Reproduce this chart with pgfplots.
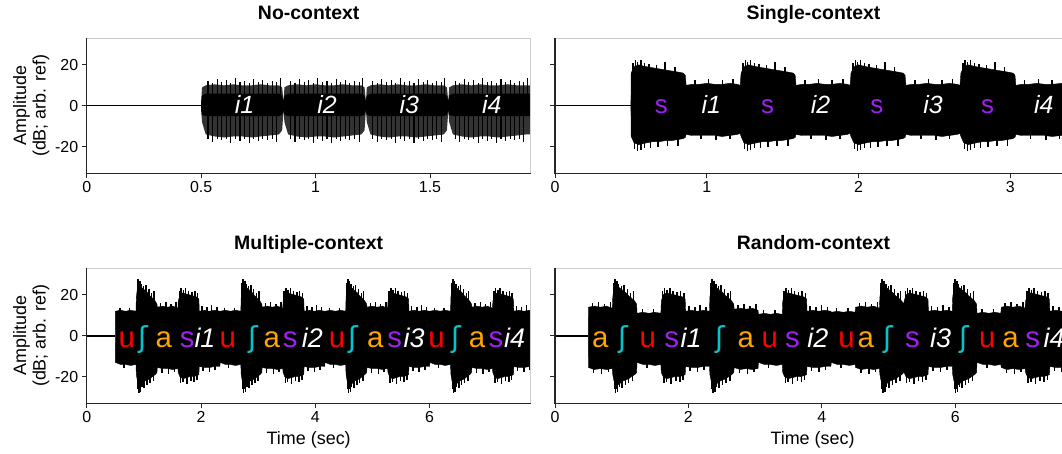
\documentclass[border=0pt]{standalone}
\usepackage{fontspec}
\setmainfont{Liberation Sans}
\newfontfamily\ipafont{DejaVu Sans}
\usepackage{pgfplots}
\usepackage{pgfplotstable}
\pgfplotsset{compat=1.18}
\usepgfplotslibrary{fillbetween}

\definecolor{cu}{HTML}{FF0000}
\definecolor{csh}{HTML}{00C5CD}
\definecolor{ca}{HTML}{FFA500}
\definecolor{cs}{HTML}{A020F0}
\definecolor{framegray}{HTML}{CCCCCC}

% envelopes (dB)
\pgfplotstableread{
t u l cu cl
0.500 2 -2 2 -2
0.504 9 -8 5 -4.5
0.520 10 -14 6 -5
0.560 10.5 -15 6 -5
0.600 10 -15.5 6 -5
0.640 10.5 -15 6 -5
0.680 10 -15 6 -5
0.720 10 -15.5 6 -5
0.760 10.5 -15 6 -5
0.800 10 -14.5 6 -5
0.840 10 -14 6 -5
0.854 9 -12 5 -4.5
0.860 2 -2 2 -2
0.864 9 -8 5 -4.5
0.880 10 -14 6 -5
0.920 10.5 -15 6 -5
0.960 10 -15.5 6 -5
1.000 10.5 -15 6 -5
1.040 10 -15 6 -5
1.080 10 -15.5 6 -5
1.120 10.5 -15 6 -5
1.160 10 -14.5 6 -5
1.200 10 -14 6 -5
1.214 9 -12 5 -4.5
1.220 2 -2 2 -2
1.224 9 -8 5 -4.5
1.240 10 -14 6 -5
1.280 10.5 -15 6 -5
1.320 10 -15.5 6 -5
1.360 10.5 -15 6 -5
1.400 10 -15 6 -5
1.440 10 -15.5 6 -5
1.480 10.5 -15 6 -5
1.520 10 -14.5 6 -5
1.560 10 -14 6 -5
1.574 9 -12 5 -4.5
1.580 2 -2 2 -2
1.584 9 -8 5 -4.5
1.600 10 -14 6 -5
1.640 10.5 -15 6 -5
1.680 10 -15.5 6 -5
1.720 10.5 -15 6 -5
1.760 10 -15 6 -5
1.800 10 -15.5 6 -5
1.840 10.5 -15 6 -5
1.880 10 -14.5 6 -5
1.920 10 -14 6 -5
1.940 10 -14 6 -5
}\envNo

\pgfplotstableread{
t u l
0.500 0.3 -0.3
0.502 16 -15
0.520 19 -18
0.550 20 -19
0.580 19.5 -18.5
0.610 19 -18
0.650 18.5 -17.5
0.690 18 -17.5
0.730 17.5 -17
0.770 17 -17
0.810 16.5 -16.5
0.845 16 -16
0.858 15 -15.5
0.864 10 -14
0.902 10.5 -14.5
0.952 10.5 -14.5
1.002 11 -14.5
1.052 10.5 -14.5
1.102 10.5 -15
1.152 11 -14.5
1.202 10.5 -14
1.220 10 -13.5
1.226 16 -15
1.244 19 -18
1.274 20 -19
1.304 19.5 -18.5
1.334 19 -18
1.374 18.5 -17.5
1.414 18 -17.5
1.454 17.5 -17
1.494 17 -17
1.534 16.5 -16.5
1.569 16 -16
1.582 15 -15.5
1.588 10 -14
1.626 10.5 -14.5
1.676 10.5 -14.5
1.726 11 -14.5
1.776 10.5 -14.5
1.826 10.5 -15
1.876 11 -14.5
1.926 10.5 -14
1.944 10 -13.5
1.950 16 -15
1.968 19 -18
1.998 20 -19
2.028 19.5 -18.5
2.058 19 -18
2.098 18.5 -17.5
2.138 18 -17.5
2.178 17.5 -17
2.218 17 -17
2.258 16.5 -16.5
2.293 16 -16
2.306 15 -15.5
2.312 10 -14
2.350 10.5 -14.5
2.400 10.5 -14.5
2.450 11 -14.5
2.500 10.5 -14.5
2.550 10.5 -15
2.600 11 -14.5
2.650 10.5 -14
2.668 10 -13.5
2.674 16 -15
2.692 19 -18
2.722 20 -19
2.752 19.5 -18.5
2.782 19 -18
2.822 18.5 -17.5
2.862 18 -17.5
2.902 17.5 -17
2.942 17 -17
2.982 16.5 -16.5
3.017 16 -16
3.030 15 -15.5
3.036 10 -14
3.074 10.5 -14.5
3.124 10.5 -14.5
3.174 11 -14.5
3.224 10.5 -14.5
3.274 10.5 -15
3.340 11 -14.5
}\envSingle

\pgfplotstableread{
t u l
0.500 0.3 -0.3
0.502 12 -13
0.590 12.5 -14
0.680 12 -14
0.770 12.5 -14.5
0.862 12 -14
0.869 19 -19
0.887 23 -22
0.917 25 -24
0.947 24 -24
0.987 23 -23
1.027 22 -22
1.067 21 -21.5
1.107 19.5 -21
1.147 18.5 -20
1.197 17 -19
1.229 15.5 -18
1.236 14 -15.5
1.324 14.5 -16
1.414 14 -16
1.504 14.5 -16.5
1.596 13.5 -16
1.603 17 -18
1.631 20 -20
1.681 21 -21
1.741 20.5 -20.5
1.801 20 -20
1.861 19.5 -20
1.921 19 -19.5
1.963 18 -19
1.970 12 -15
2.058 12.5 -15.5
2.148 12 -15.5
2.238 12.5 -15
2.330 12 -15
2.337 12 -13
2.425 12.5 -14
2.515 12 -14
2.605 12.5 -14.5
2.697 12 -14
2.704 19 -19
2.722 23 -22
2.752 25 -24
2.782 24 -24
2.822 23 -23
2.862 22 -22
2.902 21 -21.5
2.942 19.5 -21
2.982 18.5 -20
3.032 17 -19
3.064 15.5 -18
3.071 14 -15.5
3.159 14.5 -16
3.249 14 -16
3.339 14.5 -16.5
3.431 13.5 -16
3.438 17 -18
3.466 20 -20
3.516 21 -21
3.576 20.5 -20.5
3.636 20 -20
3.696 19.5 -20
3.756 19 -19.5
3.798 18 -19
3.805 12 -15
3.893 12.5 -15.5
3.983 12 -15.5
4.073 12.5 -15
4.165 12 -15
4.172 12 -13
4.260 12.5 -14
4.350 12 -14
4.440 12.5 -14.5
4.532 12 -14
4.539 19 -19
4.557 23 -22
4.587 25 -24
4.617 24 -24
4.657 23 -23
4.697 22 -22
4.737 21 -21.5
4.777 19.5 -21
4.817 18.5 -20
4.867 17 -19
4.899 15.5 -18
4.906 14 -15.5
4.994 14.5 -16
5.084 14 -16
5.174 14.5 -16.5
5.266 13.5 -16
5.273 17 -18
5.301 20 -20
5.351 21 -21
5.411 20.5 -20.5
5.471 20 -20
5.531 19.5 -20
5.591 19 -19.5
5.633 18 -19
5.640 12 -15
5.728 12.5 -15.5
5.818 12 -15.5
5.908 12.5 -15
6.000 12 -15
6.007 12 -13
6.095 12.5 -14
6.185 12 -14
6.275 12.5 -14.5
6.367 12 -14
6.374 19 -19
6.392 23 -22
6.422 25 -24
6.452 24 -24
6.492 23 -23
6.532 22 -22
6.572 21 -21.5
6.612 19.5 -21
6.652 18.5 -20
6.702 17 -19
6.734 15.5 -18
6.741 14 -15.5
6.829 14.5 -16
6.919 14 -16
7.009 14.5 -16.5
7.101 13.5 -16
7.108 17 -18
7.136 20 -20
7.186 21 -21
7.246 20.5 -20.5
7.306 20 -20
7.366 19.5 -20
7.426 19 -19.5
7.468 18 -19
7.475 12 -15
7.563 12.5 -15.5
7.653 12 -15.5
7.743 12.5 -15
7.770 12 -15
}\envMultiple

\pgfplotstableread{
t u l
0.500 0.3 -0.3
0.502 14 -15.5
0.590 14.5 -16.5
0.680 14 -16
0.770 14.5 -16.5
0.859 13.5 -16
0.866 19 -19
0.884 23 -22
0.914 25 -24
0.944 24 -24
0.984 23 -23
1.024 22 -22
1.064 21 -21.5
1.104 19.5 -21
1.144 18.5 -20
1.194 17 -19
1.223 15.5 -18
1.230 11 -13
1.318 11.5 -14
1.408 11 -14
1.498 11.5 -14.5
1.587 11 -14
1.594 17 -18
1.622 20 -20
1.672 21 -21
1.732 20.5 -20.5
1.792 20 -20
1.852 19.5 -20
1.912 19 -19.5
1.951 18 -19
1.958 12 -15
2.046 12.5 -15.5
2.136 12 -15.5
2.226 12.5 -15
2.315 12 -15
2.322 19 -19
2.340 23 -22
2.370 25 -24
2.400 24 -24
2.440 23 -23
2.480 22 -22
2.520 21 -21.5
2.560 19.5 -21
2.600 18.5 -20
2.650 17 -19
2.679 15.5 -18
2.686 13 -15.5
2.774 13.5 -16.5
2.864 13 -16
2.954 13.5 -16.5
3.043 12.5 -16
3.050 10.5 -13
3.138 11 -14
3.228 10.5 -14
3.318 11 -14.5
3.407 10.5 -14
3.414 17 -18
3.442 20 -20
3.492 21 -21
3.552 20.5 -20.5
3.612 20 -20
3.672 19.5 -20
3.732 19 -19.5
3.771 18 -19
3.778 12 -15
3.866 12.5 -15.5
3.956 12 -15.5
4.046 12.5 -15
4.135 12 -15
4.142 11.5 -13
4.230 12 -14
4.320 11.5 -14
4.410 12 -14.5
4.499 11.5 -14
4.506 14 -15.5
4.594 14.5 -16.5
4.684 14 -16
4.774 14.5 -16.5
4.863 13.5 -16
4.870 19 -19
4.888 23 -22
4.918 25 -24
4.948 24 -24
4.988 23 -23
5.028 22 -22
5.068 21 -21.5
5.108 19.5 -21
5.148 18.5 -20
5.198 17 -19
5.227 15.5 -18
5.234 17 -18
5.262 20 -20
5.312 21 -21
5.372 20.5 -20.5
5.432 20 -20
5.492 19.5 -20
5.552 19 -19.5
5.591 18 -19
5.598 12 -15
5.686 12.5 -15.5
5.776 12 -15.5
5.866 12.5 -15
5.955 12 -15
5.962 19 -19
5.980 23 -22
6.010 25 -24
6.040 24 -24
6.080 23 -23
6.120 22 -22
6.160 21 -21.5
6.200 19.5 -21
6.240 18.5 -20
6.290 17 -19
6.319 15.5 -18
6.326 11 -13
6.414 11.5 -14
6.504 11 -14
6.594 11.5 -14.5
6.683 11 -14
6.690 14 -15.5
6.778 14.5 -16.5
6.868 14 -16
6.958 14.5 -16.5
7.047 13.5 -16
7.054 17 -18
7.082 20 -20
7.132 21 -21
7.192 20.5 -20.5
7.252 20 -20
7.312 19.5 -20
7.372 19 -19.5
7.411 18 -19
7.418 12 -15
7.506 12.5 -15.5
7.600 12 -15.5
}\envRandom

\pgfplotsset{
  wave/.style={
    scale only axis, clip=false, height=135bp,
    ymin=-33, ymax=33, ytick={-20,0,20},
    axis line style={draw=none},
    tick align=outside, tick pos=left,
    major tick length=5bp,
    tick style={black!85, line width=0.9bp},
    tick label style={font=\fontsize{16}{16}\selectfont},
    /pgf/number format/assume math mode=true,
    title style={font=\bfseries\fontsize{19.5}{21}\selectfont,
      at={(axis description cs:0.5,1)}, anchor=base, yshift=12.5bp},
    ylabel style={align=center, font=\fontsize{18}{19.5}\selectfont,
      at={(axis description cs:-0.125,0.5)}, anchor=center},
    xlabel style={font=\fontsize{18}{18}\selectfont,
      at={(axis description cs:0.5,0)}, anchor=base, yshift=-41.5bp},
  },
  spike/.style={ycomb, black, line width=1.5bp, mark=none},
  silence/.style={black, line width=1.4bp, mark=none},
}
\tikzset{
  ph/.style={anchor=base, font=\fontsize{29.5}{29.5}\selectfont},
  phs/.style={anchor=base, font=\fontsize{26}{26}\selectfont},
  sh/.style={anchor=base, text=csh, font=\ipafont\fontsize{29}{29}\selectfont},
  it/.style={anchor=base, text=white, font=\itshape\fontsize{27}{27}\selectfont},
  its/.style={anchor=base, text=white, font=\itshape\fontsize{25}{25}\selectfont},
}
\newcommand\frameleft{%
  \draw[framegray, line width=1bp] (rel axis cs:0,1) -- (rel axis cs:1,1) -- (rel axis cs:1,0);
  \draw[black!85, line width=1.2bp] (rel axis cs:0,1) -- (rel axis cs:0,0) -- (rel axis cs:1,0);}
\newcommand\frameright{%
  \draw[framegray, line width=1bp] (rel axis cs:0,1) -- (rel axis cs:1,1);
  \draw[black!85, line width=1.2bp] (rel axis cs:0,1) -- (rel axis cs:0,0) -- (rel axis cs:1,0);}

\begin{document}
\begin{tikzpicture}

% ---------------- No-context ----------------
\begin{axis}[wave, at={(86.7bp,280.7bp)}, anchor=south west, width=444bp,
  xmin=0, xmax=1.94, xtick={0,0.5,1,1.5},
  title={No-context}, ylabel={Amplitude\\(dB; arb. ref)}]
\addplot[silence] coordinates {(0,0) (0.5,0)};
\addplot[draw=none, name path=nu] table[x=t,y=u] {\envNo};
\addplot[draw=none, name path=nl] table[x=t,y=l] {\envNo};
\addplot[fill=black!80, draw=none] fill between[of=nu and nl];
\addplot[spike, line width=1.1bp] coordinates {
(0.530,12) (0.550,11) (0.570,13) (0.590,11.5) (0.610,12.5) (0.630,11) (0.650,13.5) (0.670,11.5) (0.690,12) (0.710,11) (0.730,13) (0.750,11.5) (0.770,12.5) (0.790,11) (0.810,12) (0.830,11.5) (0.845,13.5)
(0.890,12) (0.910,11) (0.930,13) (0.950,11.5) (0.970,12.5) (0.990,11) (1.010,13.5) (1.030,11.5) (1.050,12) (1.070,11) (1.090,13) (1.110,11.5) (1.130,12.5) (1.150,11) (1.170,12) (1.190,11.5) (1.205,13.5)
(1.250,12) (1.270,11) (1.290,13) (1.310,11.5) (1.330,12.5) (1.350,11) (1.370,13.5) (1.390,11.5) (1.410,12) (1.430,11) (1.450,13) (1.470,11.5) (1.490,12.5) (1.510,11) (1.530,12) (1.550,11.5) (1.565,13.5)
(1.610,12) (1.630,11) (1.650,13) (1.670,11.5) (1.690,12.5) (1.710,11) (1.730,13.5) (1.750,11.5) (1.770,12) (1.790,11) (1.810,13) (1.830,11.5) (1.850,12.5) (1.870,11) (1.890,12) (1.910,11.5) (1.925,13.5)};
\addplot[spike, line width=1.1bp] coordinates {
(0.530,-16) (0.550,-17.5) (0.570,-16) (0.590,-16.5) (0.610,-16) (0.630,-18) (0.650,-16) (0.670,-17) (0.690,-16) (0.710,-18) (0.730,-16) (0.750,-17) (0.770,-16) (0.790,-16.5) (0.810,-16) (0.830,-17.5)
(0.890,-16) (0.910,-17.5) (0.930,-16) (0.950,-16.5) (0.970,-16) (0.990,-18) (1.010,-16) (1.030,-17) (1.050,-16) (1.070,-18) (1.090,-16) (1.110,-17) (1.130,-16) (1.150,-16.5) (1.170,-16) (1.190,-17.5)
(1.250,-16) (1.270,-17.5) (1.290,-16) (1.310,-16.5) (1.330,-16) (1.350,-18) (1.370,-16) (1.390,-17) (1.410,-16) (1.430,-18) (1.450,-16) (1.470,-17) (1.490,-16) (1.510,-16.5) (1.530,-16) (1.550,-17.5)
(1.610,-16) (1.630,-17.5) (1.650,-16) (1.670,-16.5) (1.690,-16) (1.710,-18) (1.730,-16) (1.750,-17) (1.770,-16) (1.790,-18) (1.810,-16) (1.830,-17) (1.850,-16) (1.870,-16.5) (1.890,-16) (1.910,-17.5)};
\addplot[draw=none, name path=ncu] table[x=t,y=cu] {\envNo};
\addplot[draw=none, name path=ncl] table[x=t,y=cl] {\envNo};
\addplot[fill=black, draw=none] fill between[of=ncu and ncl];
\node[its] at (axis cs:0.69,-4) {i1};
\node[its] at (axis cs:1.05,-4) {i2};
\node[its] at (axis cs:1.41,-4) {i3};
\node[its] at (axis cs:1.77,-4) {i4};
\frameleft
\end{axis}

% ---------------- Single-context ----------------
\begin{axis}[wave, at={(555bp,280.7bp)}, anchor=south west, width=507bp,
  xmin=0, xmax=3.34, xtick={0,1,2,3}, yticklabels={},
  title={Single-context}, title style={xshift=5bp}]
\addplot[silence] coordinates {(0,0) (0.5,0)};
\addplot[draw=none, name path=su] table[x=t,y=u] {\envSingle};
\addplot[draw=none, name path=sl] table[x=t,y=l] {\envSingle};
\addplot[fill=black, draw=black, line width=0.4bp] fill between[of=su and sl];
\addplot[spike] coordinates {
(0.515,21) (0.530,22.5) (0.545,21.5) (0.565,22.5) (0.590,21) (0.620,20.5) (0.670,20) (0.725,21.5) (0.790,19)
(0.922,12.5) (1.012,13) (1.102,12.5) (1.172,13)
(1.239,21) (1.254,22.5) (1.269,21.5) (1.289,22.5) (1.314,21) (1.344,20.5) (1.394,20) (1.449,21.5) (1.514,19)
(1.646,12.5) (1.736,13) (1.826,12.5) (1.896,13)
(1.963,21) (1.978,22.5) (1.993,21.5) (2.013,22.5) (2.038,21) (2.068,20.5) (2.118,20) (2.173,21.5) (2.238,19)
(2.370,12.5) (2.460,13) (2.550,12.5) (2.620,13)
(2.687,21) (2.702,22.5) (2.717,21.5) (2.737,22.5) (2.762,21) (2.792,20.5) (2.842,20) (2.897,21.5) (2.962,19)
(3.094,12.5) (3.184,13) (3.274,12.5)};
\addplot[spike] coordinates {
(0.525,-21) (0.545,-22) (0.565,-21.5) (0.590,-20.5) (0.630,-20.5) (0.680,-20) (0.740,-19.5) (0.810,-19.5)
(0.962,-16) (1.062,-16.5) (1.152,-16)
(1.249,-21) (1.269,-22) (1.289,-21.5) (1.314,-20.5) (1.354,-20.5) (1.404,-20) (1.464,-19.5) (1.534,-19.5)
(1.686,-16) (1.786,-16.5) (1.876,-16)
(1.973,-21) (1.993,-22) (2.013,-21.5) (2.038,-20.5) (2.078,-20.5) (2.128,-20) (2.188,-19.5) (2.258,-19.5)
(2.410,-16) (2.510,-16.5) (2.600,-16)
(2.697,-21) (2.717,-22) (2.737,-21.5) (2.762,-20.5) (2.802,-20.5) (2.852,-20) (2.912,-19.5) (2.982,-19.5)
(3.134,-16) (3.234,-16.5) (3.324,-16)};
\node[phs, text=cs] at (axis cs:0.70,-4) {s};
\node[its] at (axis cs:1.03,-4) {i1};
\node[phs, text=cs] at (axis cs:1.40,-4) {s};
\node[its] at (axis cs:1.75,-4) {i2};
\node[phs, text=cs] at (axis cs:2.12,-4) {s};
\node[its] at (axis cs:2.49,-4) {i3};
\node[phs, text=cs] at (axis cs:2.85,-4) {s};
\node[its] at (axis cs:3.22,-4) {i4};
\frameright
\end{axis}

% ---------------- Multiple-context ----------------
\begin{axis}[wave, at={(86.7bp,50.7bp)}, anchor=south west, width=444bp,
  xmin=0, xmax=7.77, xtick={0,2,4,6},
  title={Multiple-context}, ylabel={Amplitude\\(dB; arb. ref)}, xlabel={Time (sec)}]
\addplot[silence] coordinates {(0,0) (0.5,0)};
\addplot[draw=none, name path=mu] table[x=t,y=u] {\envMultiple};
\addplot[draw=none, name path=ml] table[x=t,y=l] {\envMultiple};
\addplot[fill=black, draw=black, line width=0.4bp] fill between[of=mu and ml];
\addplot[spike] coordinates {
(0.580,13.5) (0.750,13.5)
(0.887,26) (0.902,28) (0.917,26.5) (0.932,27) (0.957,25.5) (0.997,24.5) (1.037,25) (1.087,23) (1.137,21) (1.177,22)
(1.294,16) (1.384,16.5) (1.474,15.5) (1.564,16.5)
(1.621,22) (1.651,23.5) (1.691,22.5) (1.731,23.5) (1.781,22) (1.841,21.5) (1.891,22) (1.941,21)
(2.018,14.5) (2.108,14) (2.188,15) (2.278,14)
(2.415,13.5) (2.585,13.5)
(2.722,26) (2.737,28) (2.752,26.5) (2.767,27) (2.792,25.5) (2.832,24.5) (2.872,25) (2.922,23) (2.972,21) (3.012,22)
(3.129,16) (3.219,16.5) (3.309,15.5) (3.399,16.5)
(3.456,22) (3.486,23.5) (3.526,22.5) (3.566,23.5) (3.616,22) (3.676,21.5) (3.726,22) (3.776,21)
(3.853,14.5) (3.943,14) (4.023,15) (4.113,14)
(4.250,13.5) (4.420,13.5)
(4.557,26) (4.572,28) (4.587,26.5) (4.602,27) (4.627,25.5) (4.667,24.5) (4.707,25) (4.757,23) (4.807,21) (4.847,22)
(4.964,16) (5.054,16.5) (5.144,15.5) (5.234,16.5)
(5.291,22) (5.321,23.5) (5.361,22.5) (5.401,23.5) (5.451,22) (5.511,21.5) (5.561,22) (5.611,21)
(5.688,14.5) (5.778,14) (5.858,15) (5.948,14)
(6.085,13.5) (6.255,13.5)
(6.392,26) (6.407,28) (6.422,26.5) (6.437,27) (6.462,25.5) (6.502,24.5) (6.542,25) (6.592,23) (6.642,21) (6.682,22)
(6.799,16) (6.889,16.5) (6.979,15.5) (7.069,16.5)
(7.126,22) (7.156,23.5) (7.196,22.5) (7.236,23.5) (7.286,22) (7.346,21.5) (7.396,22) (7.446,21)
(7.523,14.5) (7.613,14) (7.693,15)};
\addplot[spike] coordinates {
(0.650,-15.5)
(0.897,-26) (0.912,-28) (0.927,-26) (0.942,-27.5) (0.967,-25) (1.007,-25.5) (1.057,-24) (1.107,-23) (1.167,-22)
(1.314,-18) (1.434,-18.5) (1.534,-17.5)
(1.641,-23) (1.681,-22.5) (1.751,-23.5) (1.821,-22) (1.881,-22.5) (1.931,-21.5)
(2.038,-17) (2.148,-17.5) (2.248,-16.5)
(2.485,-15.5)
(2.732,-26) (2.747,-28) (2.762,-26) (2.777,-27.5) (2.802,-25) (2.842,-25.5) (2.892,-24) (2.942,-23) (3.002,-22)
(3.149,-18) (3.269,-18.5) (3.369,-17.5)
(3.476,-23) (3.516,-22.5) (3.586,-23.5) (3.656,-22) (3.716,-22.5) (3.766,-21.5)
(3.873,-17) (3.983,-17.5) (4.083,-16.5)
(4.320,-15.5)
(4.567,-26) (4.582,-28) (4.597,-26) (4.612,-27.5) (4.637,-25) (4.677,-25.5) (4.727,-24) (4.777,-23) (4.837,-22)
(4.984,-18) (5.104,-18.5) (5.204,-17.5)
(5.311,-23) (5.351,-22.5) (5.421,-23.5) (5.491,-22) (5.551,-22.5) (5.601,-21.5)
(5.708,-17) (5.818,-17.5) (5.918,-16.5)
(6.155,-15.5)
(6.402,-26) (6.417,-28) (6.432,-26) (6.447,-27.5) (6.472,-25) (6.512,-25.5) (6.562,-24) (6.612,-23) (6.672,-22)
(6.819,-18) (6.939,-18.5) (7.039,-17.5)
(7.146,-23) (7.186,-22.5) (7.256,-23.5) (7.326,-22) (7.386,-22.5) (7.436,-21.5)
(7.543,-17) (7.653,-17.5) (7.753,-16.5)};
\node[ph, text=cu] at (axis cs:0.70,-5.5) {u};
\node[sh] at (axis cs:1.00,-5.5) {ʃ};
\node[ph, text=ca] at (axis cs:1.35,-5.5) {a};
\node[ph, text=cs] at (axis cs:1.76,-5.5) {s};
\node[it] at (axis cs:2.07,-5.5) {i1};
\node[ph, text=cu] at (axis cs:2.47,-5.5) {u};
\node[sh] at (axis cs:2.91,-5.5) {ʃ};
\node[ph, text=ca] at (axis cs:3.24,-5.5) {a};
\node[ph, text=cs] at (axis cs:3.56,-5.5) {s};
\node[it] at (axis cs:3.95,-5.5) {i2};
\node[ph, text=cu] at (axis cs:4.38,-5.5) {u};
\node[sh] at (axis cs:4.66,-5.5) {ʃ};
\node[ph, text=ca] at (axis cs:5.05,-5.5) {a};
\node[ph, text=cs] at (axis cs:5.39,-5.5) {s};
\node[it] at (axis cs:5.73,-5.5) {i3};
\node[ph, text=cu] at (axis cs:6.12,-5.5) {u};
\node[sh] at (axis cs:6.47,-5.5) {ʃ};
\node[ph, text=ca] at (axis cs:6.83,-5.5) {a};
\node[ph, text=cs] at (axis cs:7.16,-5.5) {s};
\node[it] at (axis cs:7.49,-5.5) {i4};
\frameleft
\end{axis}

% ---------------- Random-context ----------------
\begin{axis}[wave, at={(555bp,50.7bp)}, anchor=south west, width=507bp,
  xmin=0, xmax=7.60, xtick={0,2,4,6}, yticklabels={},
  title={Random-context}, title style={xshift=5bp}, xlabel={Time (sec)}, xlabel style={xshift=4bp}]
\addplot[silence] coordinates {(0,0) (0.5,0)};
\addplot[draw=none, name path=ru] table[x=t,y=u] {\envRandom};
\addplot[draw=none, name path=rl] table[x=t,y=l] {\envRandom};
\addplot[fill=black, draw=black, line width=0.4bp] fill between[of=ru and rl];
\addplot[spike] coordinates {
(0.560,16) (0.650,16.5) (0.740,15.5) (0.830,16.5)
(0.884,26) (0.899,28) (0.914,26.5) (0.929,27) (0.954,25.5) (0.994,24.5) (1.034,25) (1.084,23) (1.134,21) (1.174,22)
(1.308,13) (1.478,13)
(1.612,22) (1.642,23.5) (1.682,22.5) (1.722,23.5) (1.772,22) (1.832,21.5) (1.882,22) (1.932,21)
(2.006,14.5) (2.096,14) (2.176,15) (2.266,14)
(2.340,26) (2.355,28) (2.370,26.5) (2.385,27) (2.410,25.5) (2.450,24.5) (2.490,25) (2.540,23) (2.590,21) (2.630,22)
(2.744,15) (2.834,15.5) (2.924,14.5) (3.014,15.5)
(3.128,12.5) (3.298,12.5)
(3.432,22) (3.462,23.5) (3.502,22.5) (3.542,23.5) (3.592,22) (3.652,21.5) (3.702,22) (3.752,21)
(3.826,14.5) (3.916,14) (3.996,15) (4.086,14)
(4.220,13.5) (4.390,13.5)
(4.564,16) (4.654,16.5) (4.744,15.5) (4.834,16.5)
(4.888,26) (4.903,28) (4.918,26.5) (4.933,27) (4.958,25.5) (4.998,24.5) (5.038,25) (5.088,23) (5.138,21) (5.178,22)
(5.252,22) (5.282,23.5) (5.322,22.5) (5.362,23.5) (5.412,22) (5.472,21.5) (5.522,22) (5.572,21)
(5.646,14.5) (5.736,14) (5.816,15) (5.906,14)
(5.980,26) (5.995,28) (6.010,26.5) (6.025,27) (6.050,25.5) (6.090,24.5) (6.130,25) (6.180,23) (6.230,21) (6.270,22)
(6.404,13) (6.574,13)
(6.748,16) (6.838,16.5) (6.928,15.5) (7.018,16.5)
(7.072,22) (7.102,23.5) (7.142,22.5) (7.182,23.5) (7.232,22) (7.292,21.5) (7.342,22) (7.392,21)
(7.466,14.5) (7.556,14)};
\addplot[spike] coordinates {
(0.580,-18) (0.700,-18.5) (0.800,-17.5)
(0.894,-26) (0.909,-28) (0.924,-26) (0.939,-27.5) (0.964,-25) (1.004,-25.5) (1.054,-24) (1.104,-23) (1.164,-22)
(1.378,-15.5)
(1.632,-23) (1.672,-22.5) (1.742,-23.5) (1.812,-22) (1.872,-22.5) (1.922,-21.5)
(2.026,-17) (2.136,-17.5) (2.236,-16.5)
(2.350,-26) (2.365,-28) (2.380,-26) (2.395,-27.5) (2.420,-25) (2.460,-25.5) (2.510,-24) (2.560,-23) (2.620,-22)
(2.764,-18) (2.884,-18.5) (2.984,-17.5)
(3.198,-15.5)
(3.452,-23) (3.492,-22.5) (3.562,-23.5) (3.632,-22) (3.692,-22.5) (3.742,-21.5)
(3.846,-17) (3.956,-17.5) (4.056,-16.5)
(4.290,-15.5)
(4.584,-18) (4.704,-18.5) (4.804,-17.5)
(4.898,-26) (4.913,-28) (4.928,-26) (4.943,-27.5) (4.968,-25) (5.008,-25.5) (5.058,-24) (5.108,-23) (5.168,-22)
(5.272,-23) (5.312,-22.5) (5.382,-23.5) (5.452,-22) (5.512,-22.5) (5.562,-21.5)
(5.666,-17) (5.776,-17.5) (5.876,-16.5)
(5.990,-26) (6.005,-28) (6.020,-26) (6.035,-27.5) (6.060,-25) (6.100,-25.5) (6.150,-24) (6.200,-23) (6.260,-22)
(6.474,-15.5)
(6.768,-18) (6.888,-18.5) (6.988,-17.5)
(7.092,-23) (7.132,-22.5) (7.202,-23.5) (7.272,-22) (7.332,-22.5) (7.382,-21.5)
(7.486,-17) (7.596,-17.5)};
\node[ph, text=ca] at (axis cs:0.68,-5.5) {a};
\node[sh] at (axis cs:1.02,-5.5) {ʃ};
\node[ph, text=cu] at (axis cs:1.39,-5.5) {u};
\node[ph, text=cs] at (axis cs:1.75,-5.5) {s};
\node[it] at (axis cs:2.04,-5.5) {i1};
\node[sh] at (axis cs:2.48,-5.5) {ʃ};
\node[ph, text=ca] at (axis cs:2.86,-5.5) {a};
\node[ph, text=cu] at (axis cs:3.22,-5.5) {u};
\node[ph, text=cs] at (axis cs:3.56,-5.5) {s};
\node[it] at (axis cs:3.94,-5.5) {i2};
\node[ph, text=cu] at (axis cs:4.37,-5.5) {u};
\node[ph, text=ca] at (axis cs:4.66,-5.5) {a};
\node[sh] at (axis cs:4.99,-5.5) {ʃ};
\node[ph, text=cs] at (axis cs:5.36,-5.5) {s};
\node[it] at (axis cs:5.78,-5.5) {i3};
\node[sh] at (axis cs:6.14,-5.5) {ʃ};
\node[ph, text=cu] at (axis cs:6.48,-5.5) {u};
\node[ph, text=ca] at (axis cs:6.83,-5.5) {a};
\node[ph, text=cs] at (axis cs:7.16,-5.5) {s};
\node[it] at (axis cs:7.48,-5.5) {i4};
\frameright
\end{axis}

\pgfresetboundingbox
\path[use as bounding box] (0,0) rectangle (1062bp,454bp);
\end{tikzpicture}
\end{document}
